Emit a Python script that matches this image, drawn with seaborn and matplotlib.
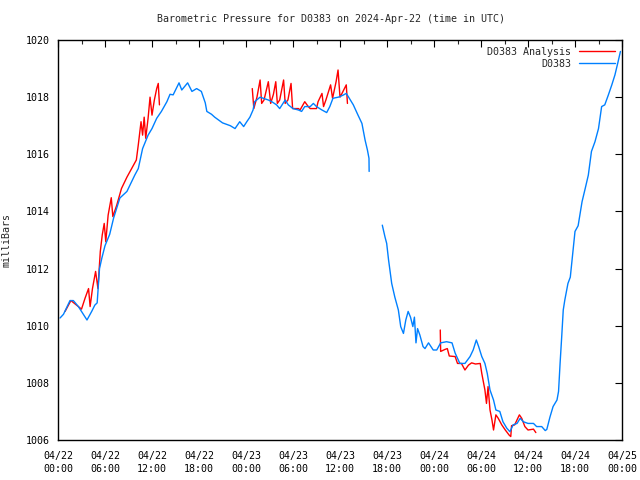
import numpy as np
import pandas as pd
import matplotlib
matplotlib.use("Agg")
import matplotlib.pyplot as plt
import matplotlib.dates as mdates
from matplotlib.lines import Line2D
import seaborn as sns

# hours since 2024-04-22 00:00 UTC, pressure in mb
obs_seg1_h = [0.26, 0.7, 1.53, 1.96, 2.6, 3.0, 3.7, 4.3, 4.7, 5.0, 5.3, 5.6, 6.0, 6.6, 7.1,
              7.9, 8.8, 9.8, 10.25, 10.8, 11.5, 12.0, 12.6, 13.2, 13.9, 14.3, 14.7, 15.45,
              15.8, 16.55, 17.1, 17.7, 18.3, 18.8, 19.0, 19.6, 20.0, 21.0, 22.0, 22.6, 23.2,
              23.7, 24.1, 24.5, 24.9, 25.1, 25.8, 26.2, 26.85, 27.3, 27.9, 28.3, 29.0, 29.4,
              30.0, 30.7, 31.1, 31.5, 32.2, 32.6, 33.0, 33.7, 34.3, 34.7, 35.1, 35.8, 36.4,
              36.8, 37.1, 37.7, 38.3, 38.8, 39.2, 39.5, 39.7, 39.72]
obs_seg1_p = [1010.27, 1010.4, 1010.88, 1010.88, 1010.67, 1010.5, 1010.2, 1010.5, 1010.72,
              1010.8, 1012.0, 1012.37, 1012.8, 1013.2, 1013.77, 1014.47, 1014.7, 1015.27,
              1015.5, 1016.2, 1016.67, 1016.9, 1017.26, 1017.5, 1017.84, 1018.1, 1018.08,
              1018.5, 1018.25, 1018.5, 1018.2, 1018.3, 1018.2, 1017.8, 1017.5, 1017.4,
              1017.3, 1017.1, 1017.0, 1016.9, 1017.14, 1016.97, 1017.14, 1017.3, 1017.55,
              1017.84, 1018.0, 1017.96, 1017.9, 1017.84, 1017.73, 1017.6, 1017.9, 1017.73,
              1017.6, 1017.55, 1017.5, 1017.67, 1017.67, 1017.78, 1017.67, 1017.55, 1017.46,
              1017.67, 1017.96, 1018.0, 1018.07, 1018.13, 1018.0, 1017.73, 1017.37, 1017.08,
              1016.5, 1016.15, 1015.86, 1015.4]
obs_seg2_h = [41.4, 41.75, 41.96, 42.2, 42.6, 43.0, 43.45, 43.75, 44.1, 44.4, 44.7, 45.0,
              45.3, 45.5, 45.7, 45.9, 46.2, 46.6, 46.85, 47.3, 47.9, 48.35, 48.85, 49.6,
              50.3, 50.7, 51.3, 51.95, 52.6, 53.0, 53.4, 53.7, 54.1, 54.5, 54.8, 55.15,
              55.6, 55.9, 56.4, 56.8, 57.3, 57.7, 58.1, 58.6, 59.0, 59.4, 60.0, 60.7, 61.1,
              61.75, 62.2, 62.4, 62.8, 63.2, 63.7, 63.9, 64.1, 64.3, 64.5, 64.7, 65.1, 65.4,
              66.0, 66.4, 66.9, 67.3, 67.7, 68.1, 68.55, 69.0, 69.4, 69.8, 70.25, 70.7,
              71.1, 71.5, 71.8]
obs_seg2_p = [1013.52, 1013.1, 1012.88, 1012.3, 1011.48, 1011.0, 1010.55, 1009.97, 1009.73,
              1010.2, 1010.5, 1010.3, 1009.97, 1010.3, 1009.4, 1009.9, 1009.67, 1009.27,
              1009.2, 1009.4, 1009.15, 1009.15, 1009.4, 1009.44, 1009.4, 1009.04, 1008.68,
              1008.68, 1008.92, 1009.15, 1009.5, 1009.27, 1008.92, 1008.68, 1008.33,
              1007.75, 1007.4, 1007.05, 1007.0, 1006.64, 1006.41, 1006.29, 1006.53,
              1006.58, 1006.76, 1006.64, 1006.58, 1006.58, 1006.47, 1006.47, 1006.33,
              1006.37, 1006.8, 1007.17, 1007.4, 1007.7, 1008.7, 1009.6, 1010.55, 1010.9,
              1011.48, 1011.7, 1013.3, 1013.5, 1014.34, 1014.8, 1015.27, 1016.1, 1016.44,
              1016.9, 1017.67, 1017.73, 1018.07, 1018.43, 1018.78, 1019.24, 1019.6]

ana_seg1_h = [0.9, 1.65, 2.6, 3.0, 3.45, 3.9, 4.1, 4.4, 4.8, 5.1, 5.4, 5.65, 5.9, 6.1, 6.4,
              6.8, 7.0, 7.5, 8.1, 8.8, 9.4, 10.0, 10.25, 10.6, 10.8, 11.0, 11.2, 11.5,
              11.75, 12.0, 12.3, 12.6, 12.8, 12.95]
ana_seg1_p = [1010.5, 1010.88, 1010.67, 1010.58, 1010.96, 1011.3, 1010.67, 1011.3, 1011.9,
              1011.3, 1012.6, 1013.18, 1013.58, 1012.94, 1013.87, 1014.48, 1013.82,
              1014.22, 1014.8, 1015.2, 1015.5, 1015.8, 1016.33, 1017.14, 1016.67, 1017.3,
              1016.56, 1017.26, 1018.0, 1017.37, 1017.9, 1018.3, 1018.48, 1017.73]
ana_seg2_h = [24.8, 25.0, 25.4, 25.8, 26.0, 26.3, 26.85, 27.15, 27.5, 27.8, 28.0, 28.3,
              28.8, 29.0, 29.35, 29.75, 29.95, 30.7, 30.9, 31.5, 31.95, 32.2, 33.0, 33.2,
              33.7, 33.9, 34.2, 34.8, 35.05, 35.5, 35.75, 36.0, 36.2, 36.8, 36.95]
ana_seg2_p = [1018.3, 1017.6, 1018.0, 1018.6, 1017.78, 1017.9, 1018.54, 1017.78, 1018.1,
              1018.54, 1017.78, 1017.9, 1018.6, 1017.78, 1017.9, 1018.48, 1017.6, 1017.6,
              1017.55, 1017.84, 1017.67, 1017.6, 1017.6, 1017.84, 1018.13, 1017.67,
              1017.9, 1018.43, 1017.96, 1018.54, 1018.95, 1018.0, 1018.1, 1018.43, 1017.78]
ana_seg3_h = [48.8, 48.85, 49.4, 49.7, 49.95, 50.7, 51.0, 51.5, 51.95, 52.4, 52.8, 53.3,
              53.9, 54.1, 54.5, 54.7, 54.9, 55.15, 55.4, 55.6, 55.9, 56.2, 56.65, 57.1,
              57.6, 57.8, 57.9, 58.3, 58.9, 59.2, 59.6, 60.0, 60.7, 61.0]
ana_seg3_p = [1009.85, 1009.1, 1009.17, 1009.2, 1008.94, 1008.92, 1008.68, 1008.68,
              1008.45, 1008.62, 1008.7, 1008.66, 1008.68, 1008.33, 1007.75, 1007.28,
              1007.87, 1007.05, 1006.7, 1006.35, 1006.88, 1006.76, 1006.53, 1006.35,
              1006.17, 1006.12, 1006.5, 1006.53, 1006.88, 1006.76, 1006.47, 1006.35,
              1006.38, 1006.26]

y_ticks = [1006, 1008, 1010, 1012, 1014, 1016, 1018, 1020]

t0 = pd.Timestamp("2024-04-22 00:00")


def make_df(segments):
    parts = []
    for i, (h, p) in enumerate(segments):
        parts.append(pd.DataFrame({"time": t0 + pd.to_timedelta(h, unit="h"),
                                   "pressure": p, "seg": i}))
    return pd.concat(parts, ignore_index=True)


obs = make_df([(obs_seg1_h, obs_seg1_p), (obs_seg2_h, obs_seg2_p)])
ana = make_df([(ana_seg1_h, ana_seg1_p), (ana_seg2_h, ana_seg2_p), (ana_seg3_h, ana_seg3_p)])

sns.set_style("white")
plt.rcParams["font.family"] = ["DejaVu Sans Mono"]
fs = 7.2

fig = plt.figure(figsize=(6.4, 4.8), dpi=100)
ax = fig.add_axes([58 / 640, 40 / 480, 564 / 640, 400 / 480])

sns.lineplot(data=ana, x="time", y="pressure", units="seg", estimator=None,
             color="#ff0000", linewidth=1.0, ax=ax)
sns.lineplot(data=obs, x="time", y="pressure", units="seg", estimator=None,
             color="#0080ff", linewidth=1.0, ax=ax)

ax.set_xlim(t0, t0 + pd.Timedelta(hours=72))
ax.set_ylim(1006, 1020)
ax.set_yticks(y_ticks)
ax.xaxis.set_major_locator(mdates.HourLocator(byhour=[0, 6, 12, 18]))
ax.xaxis.set_minor_locator(mdates.HourLocator(byhour=[3, 9, 15, 21]))
ax.xaxis.set_major_formatter(mdates.DateFormatter("%m/%d\n%H:%M"))
ax.tick_params(which="major", direction="in", length=5, width=0.8, top=True, right=True,
               labelsize=fs, pad=6, colors="black")
ax.tick_params(which="minor", direction="in", length=3, width=0.8, top=True, right=True)
ax.tick_params(axis="x", which="major", pad=8)
for lbl in ax.get_xticklabels():
    lbl.set_linespacing(1.35)
for s in ax.spines.values():
    s.set_visible(True)
    s.set_color("black")
    s.set_linewidth(1.0)

ax.set_xlabel("")
ax.set_ylabel("milliBars", fontsize=fs, labelpad=12)
ax.yaxis.set_label_coords(-0.083, 0.5)

fig.text(331 / 640, 1 - 19 / 480, "Barometric Pressure for D0383 on 2024-Apr-22 (time in UTC)",
         ha="center", va="center", fontsize=fs)

handles = [Line2D([], [], color="#ff0000", lw=1.0), Line2D([], [], color="#0080ff", lw=1.0)]
leg = ax.legend(handles, ["D0383 Analysis", "D0383"], loc="upper right", frameon=False,
                markerfirst=False, fontsize=fs, handlelength=3.6, handletextpad=0.8,
                labelspacing=0.2, borderaxespad=0.3)
for t in leg.get_texts():
    t.set_ha("right")
leg._legend_box.align = "right"

fig.savefig("out.png", dpi=100)
